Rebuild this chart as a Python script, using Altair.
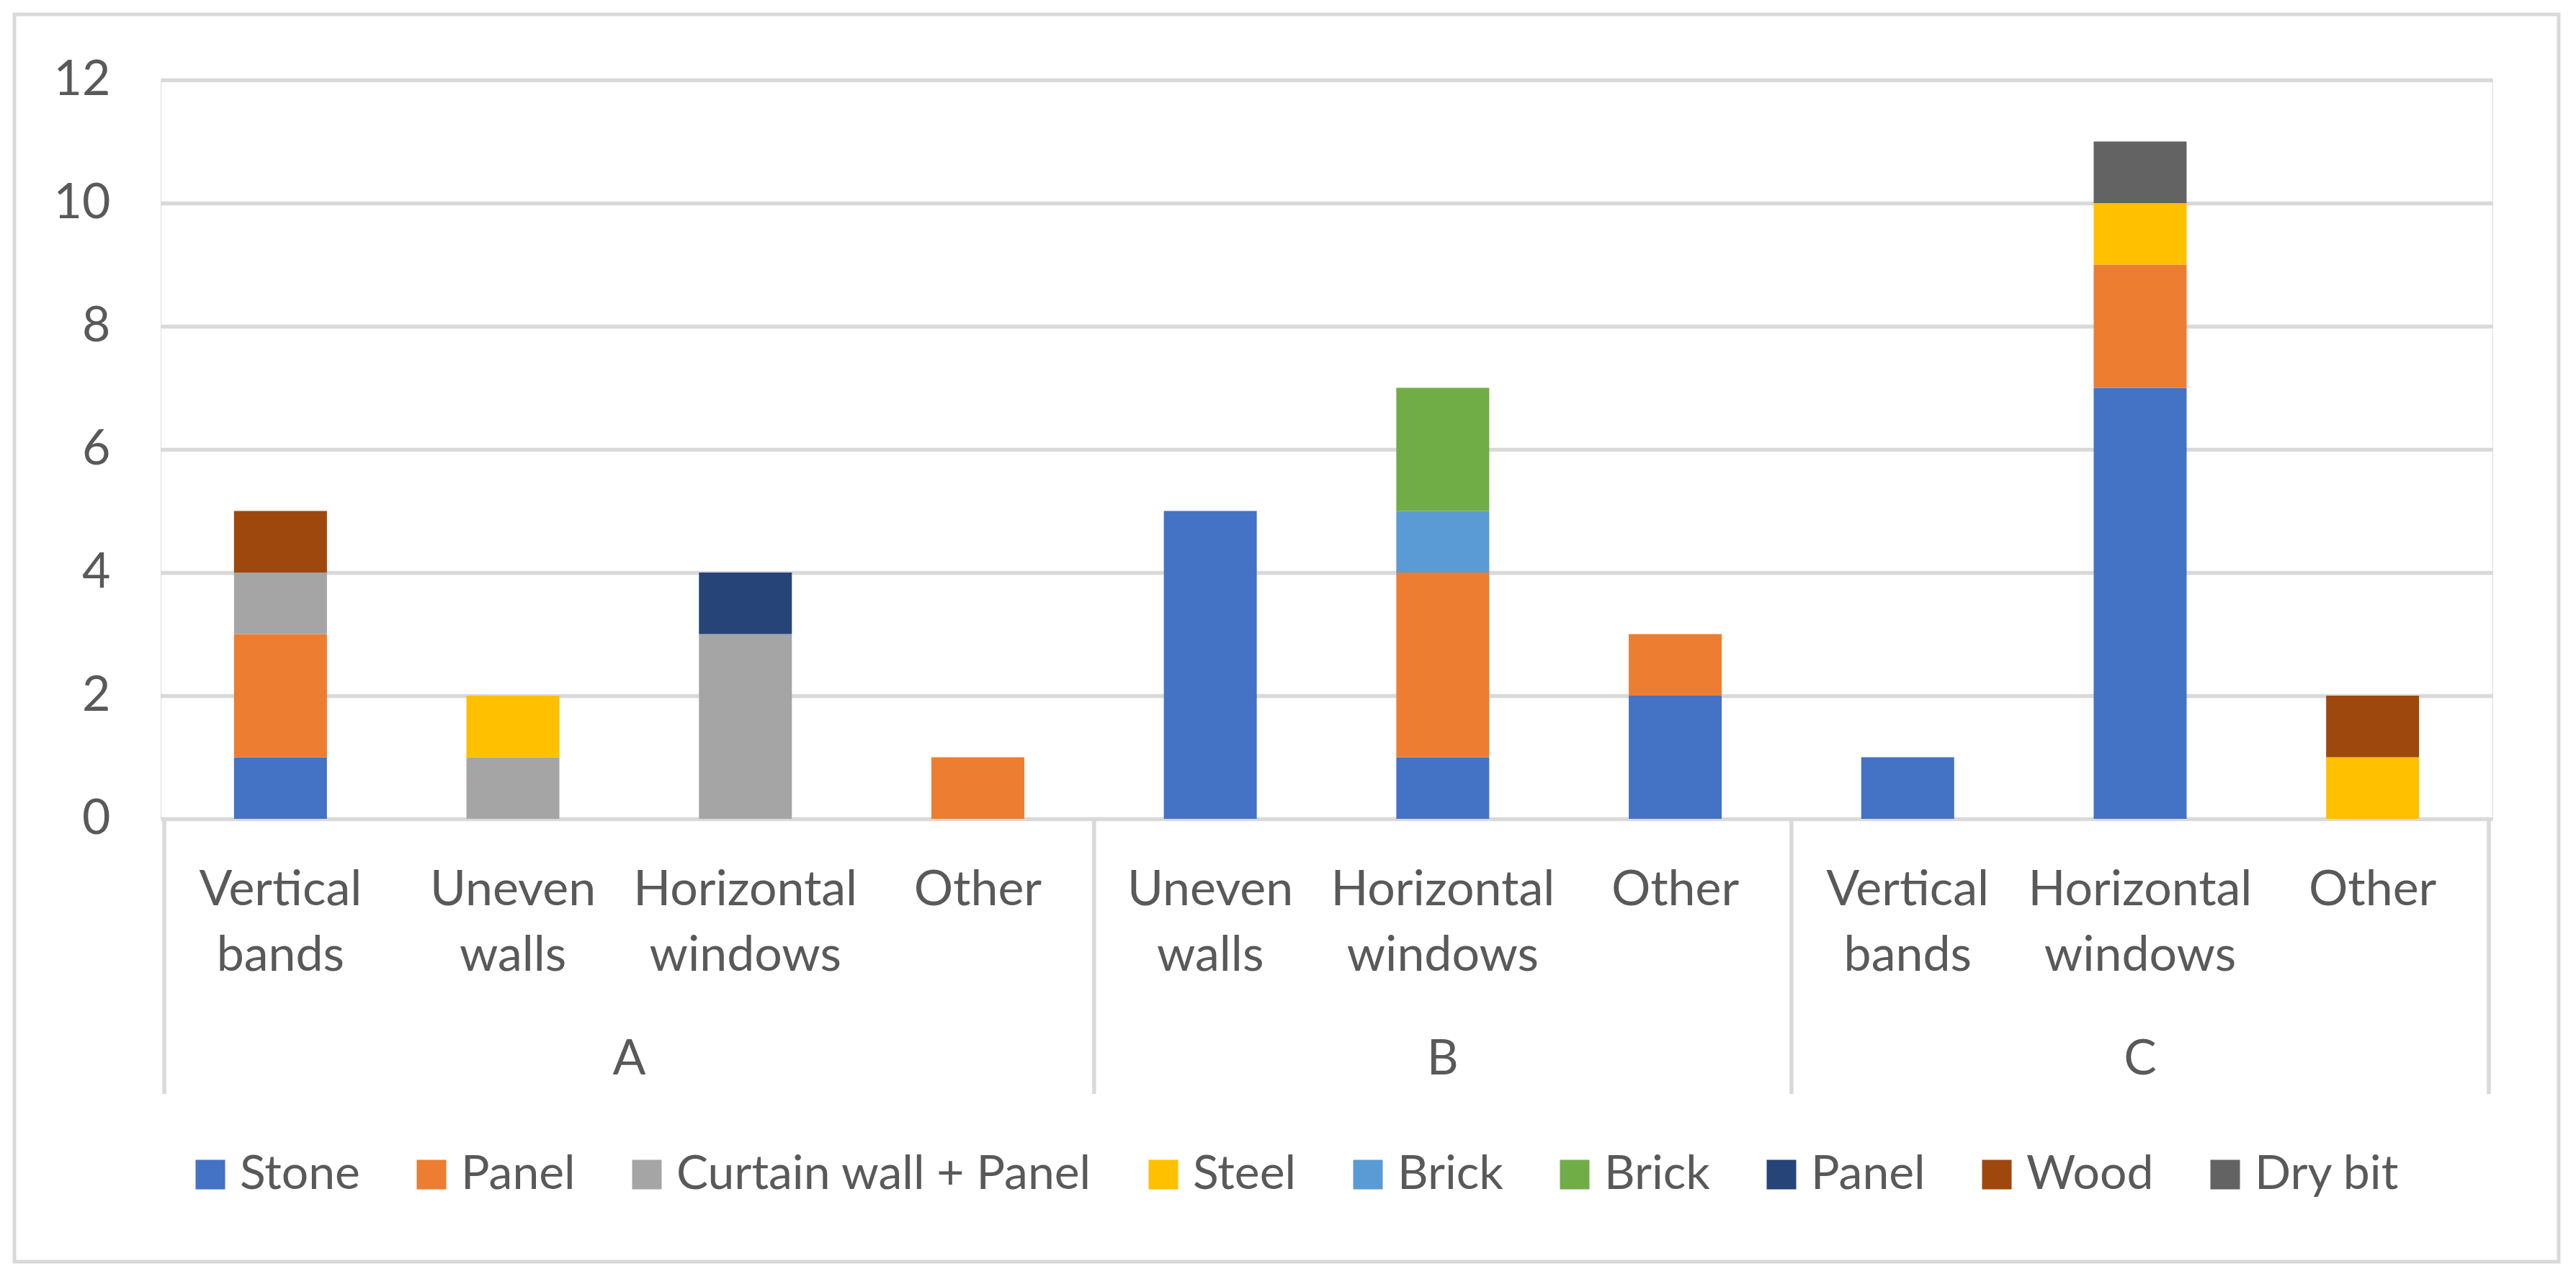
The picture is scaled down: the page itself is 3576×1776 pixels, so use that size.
import altair as alt
import pandas as pd

# ---- data ----
groups = ["A", "B", "C"]
group_subcats = [
    ["Vertical bands", "Uneven walls", "Horizontal windows", "Other"],
    ["Uneven walls", "Horizontal windows", "Other"],
    ["Vertical bands", "Horizontal windows", "Other"],
]
series_names = ["Stone", "Panel", "Curtain wall + Panel", "Steel", "Brick",
                "Brick", "Panel", "Wood", "Dry bit"]
series_colors = ["#4472C4", "#ED7D31", "#A5A5A5", "#FFC000", "#5B9BD5",
                 "#70AD47", "#264478", "#9E480E", "#636363"]

# values per category slot: A(4) | B(3) | C(3)
stone        = [1, 0, 0, 0, 5, 1, 2, 1, 7, 0]
panel        = [2, 0, 0, 1, 0, 3, 1, 0, 2, 0]
curtain_wall = [1, 1, 3, 0, 0, 0, 0, 0, 0, 0]
steel        = [0, 1, 0, 0, 0, 0, 0, 0, 1, 1]
brick_blue   = [0, 0, 0, 0, 0, 1, 0, 0, 0, 0]
brick_green  = [0, 0, 0, 0, 0, 2, 0, 0, 0, 0]
panel_dark   = [0, 0, 1, 0, 0, 0, 0, 0, 0, 0]
wood         = [1, 0, 0, 0, 0, 0, 0, 0, 0, 1]
dry_bit      = [0, 0, 0, 0, 0, 0, 0, 0, 1, 0]
series_values = [stone, panel, curtain_wall, steel, brick_blue, brick_green,
                 panel_dark, wood, dry_bit]

y_ticks = [0, 2, 4, 6, 8, 10, 12]

# ---- tables ----
cat_rows, group_rows, sep_rows = [], [], [-0.5]
slot = 0
for g, subs in zip(groups, group_subcats):
    start = slot
    for s in subs:
        cat_rows.append({"slot": slot, "label": s.replace(" ", "\n")})
        slot += 1
    group_rows.append({"center": (start + slot - 1) / 2, "group": g})
    sep_rows.append(slot - 0.5)
n_slots = slot

bar_rows = []
for sid, vals in enumerate(series_values):
    for j, v in enumerate(vals):
        if v > 0:
            bar_rows.append({"slot": j, "sid": sid, "value": v})

bar_df = pd.DataFrame(bar_rows)
cat_df = pd.DataFrame(cat_rows)
grp_df = pd.DataFrame(group_rows)
sep_df = pd.DataFrame({"x": sep_rows})

W, H = 3237, 1026
FONT = "Lato"
TXT = "#595959"
LINE = "#D9D9D9"
FS = 68

xscale = alt.Scale(domain=[-0.5, n_slots - 0.5], nice=False, zero=False)

label_expr = "[" + ",".join("'" + n + "'" for n in series_names) + "][datum.value]"

bars = alt.Chart(bar_df).mark_bar(size=129, orient="vertical").encode(
    x=alt.X("slot:Q", scale=xscale, axis=None),
    y=alt.Y("value:Q", stack="zero",
            scale=alt.Scale(domain=[0, 12], nice=False),
            axis=alt.Axis(values=y_ticks, title=None, domain=False, ticks=False,
                          grid=True, gridColor=LINE, gridWidth=5.5,
                          labelFont=FONT, labelFontSize=FS, labelColor=TXT,
                          labelPadding=70)),
    color=alt.Color("sid:N",
                    scale=alt.Scale(domain=list(range(len(series_names))),
                                    range=series_colors),
                    legend=alt.Legend(orient="none", legendX=36, legendY=1487,
                                      direction="horizontal", columns=9,
                                      title=None, symbolType="square",
                                      symbolSize=1681, symbolStrokeWidth=0,
                                      labelFont=FONT, labelFontSize=66,
                                      labelColor=TXT, labelOffset=8,
                                      columnPadding=66, padding=0,
                                      labelLimit=3000, labelExpr=label_expr)),
    order=alt.Order("sid:Q", sort="ascending"),
)

seps = alt.Chart(sep_df).mark_rule(color=LINE, strokeWidth=5.5).encode(
    x=alt.X("x:Q", scale=xscale, axis=None),
    y=alt.value(H),
    y2=alt.value(1408),
)

cat_text = alt.Chart(cat_df).mark_text(
    font=FONT, fontSize=FS, color=TXT, lineBreak="\n", lineHeight=91,
    baseline="alphabetic", align="center",
).encode(
    x=alt.X("slot:Q", scale=xscale, axis=None),
    y=alt.value(1146),
    text="label:N",
)

grp_text = alt.Chart(grp_df).mark_text(
    font=FONT, fontSize=FS, color=TXT, baseline="alphabetic", align="center",
).encode(
    x=alt.X("center:Q", scale=xscale, axis=None),
    y=alt.value(1381),
    text="group:N",
)

border = alt.Chart(pd.DataFrame({"k": [0]})).mark_rect(
    fill=None, stroke=LINE, strokeWidth=5,
).encode(
    x=alt.value(-203), x2=alt.value(3329),
    y=alt.value(-91), y2=alt.value(1641),
)

chart = alt.layer(border, bars, seps, cat_text, grp_text).properties(
    width=W, height=H,
    autosize=alt.AutoSizeParams(type="none"),
    padding={"left": 215, "top": 103, "right": 108, "bottom": 631},
).configure_view(stroke=None).configure(background="white")

chart.save("out.html", embed_options={"renderer": "svg", "actions": False})
